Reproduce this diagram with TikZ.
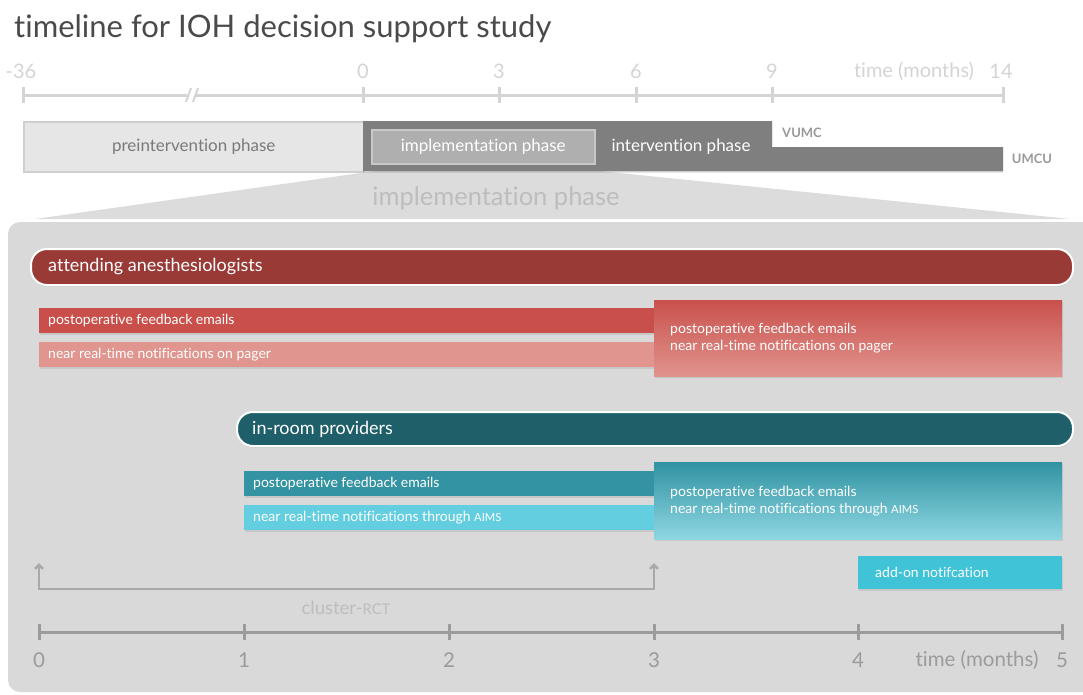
\documentclass[tikz,border=0pt]{standalone}
\usepackage{fontspec}
\usepackage{graphicx}
\setmainfont{Lato}[Ligatures=NoCommon]
\usetikzlibrary{shadows,arrows.meta}

\newcommand\fs[2]{\fontsize{#1}{#2}\selectfont}
\newcommand\smcaps[1]{\scalebox{0.8}{#1}}

\definecolor{titlegray}{HTML}{4A4A4A}
\definecolor{axislight}{HTML}{D4D4D4}
\definecolor{axisdark}{HTML}{9B9B9B}
\definecolor{prefill}{HTML}{E6E6E6}
\definecolor{preborder}{HTML}{CFCFCF}
\definecolor{pretext}{HTML}{7A7A7A}
\definecolor{darkbar}{HTML}{7F7F7F}
\definecolor{implfill}{HTML}{AFAFAF}
\definecolor{implborder}{HTML}{C8C8C8}
\definecolor{sitegray}{HTML}{999999}
\definecolor{panelgray}{HTML}{D9D9D9}
\definecolor{wedgegray}{HTML}{DCDCDC}
\definecolor{wedgetext}{HTML}{BDBDBD}
\definecolor{attred}{HTML}{993A37}
\definecolor{emailred}{HTML}{C9504A}
\definecolor{pagerpink}{HTML}{E0958F}
\definecolor{gradredtop}{HTML}{CA514C}
\definecolor{gradredbot}{HTML}{E0938E}
\definecolor{roomteal}{HTML}{1F5F69}
\definecolor{emailteal}{HTML}{3393A2}
\definecolor{aimscyan}{HTML}{62CEDF}
\definecolor{gradtealtop}{HTML}{3192A1}
\definecolor{gradtealbot}{HTML}{8ED7E3}
\definecolor{addoncyan}{HTML}{40C2D7}
\definecolor{bracketgray}{HTML}{A9A9A9}
\definecolor{rcttext}{HTML}{BDBDBD}

\begin{document}
\begin{tikzpicture}[x=1pt,y=-1pt,
  box/.style={inner sep=0pt, anchor=north west, draw=none},
  softshadow/.style={drop shadow={opacity=0.2, shadow xshift=0.6pt, shadow yshift=-1.6pt}},
  lbl/.style={anchor=west, text=white, inner sep=0pt, font=\fs{14}{17}, align=left},
  grouplbl/.style={anchor=west, text=white, inner sep=0pt, font=\fs{18}{18}},
  groupbar/.style={box, draw=white, line width=2pt, rounded corners=16pt, softshadow},
  topaxis/.style={draw=axislight, line width=3pt},
  botaxis/.style={draw=axisdark, line width=3pt},
  toplabel/.style={text=axislight, font=\fs{20}{20}, inner sep=0pt},
  botlabel/.style={text=axisdark, font=\fs{20.5}{20.5}, inner sep=0pt},
  bracket/.style={draw=bracketgray, line width=2.5pt},
]
\useasboundingbox (0,0) rectangle (1083,694);
\clip (0,0) rectangle (1083,694);

% title
\node[anchor=base west, inner sep=0pt, text=titlegray, font=\fs{31}{31}] (title) at (14,37)
  {timeline for IOH decision support study};

% overall time axis (months)
\coordinate (tm36) at (23,95);
\coordinate (tz) at (363,95);
\coordinate (tthree) at (499,95);
\coordinate (tsix) at (636,95);
\coordinate (tnine) at (772,95);
\coordinate (tfourteen) at (1003,95);
\draw[topaxis] (tm36) -- (tfourteen);
\foreach \p in {tm36,tz,tthree,tsix,tnine,tfourteen}
  \draw[topaxis] ([yshift=8pt]\p) -- ([yshift=-8pt]\p);
% axis break
\fill[white] (185,89) -- (193,89) -- (197,101) -- (189,101) -- cycle;
\draw[draw=axislight, line width=2pt] (186,102) -- (191,88);
\draw[draw=axislight, line width=2pt] (193,102) -- (198,88);
\node[toplabel] (lm36) at (21,71) {-36};
\node[toplabel] (lz) at (363,71) {0};
\node[toplabel] (lthree) at (499,71) {3};
\node[toplabel] (lsix) at (636,71) {6};
\node[toplabel] (lnine) at (772,71) {9};
\node[toplabel] (lfourteen) at (1001,71) {14};
\node[toplabel] (ltime) at (914,71) {time (months)};

% zoom wedge towards the detail panel
\fill[wedgegray] (375,171) -- (600,171) -- (1070,219) -- (35,219) -- cycle;
\node[text=wedgetext, font=\fs{25.5}{25.5}, inner sep=0pt] (wedgelabel) at (496,198) {implementation phase};

% study phases
\node[box, fill=prefill, draw=preborder, line width=1.5pt, minimum width=340pt, minimum height=50pt,
  softshadow] (pre) at (23,121) {};
\node[text=pretext, font=\fs{17}{17}, inner sep=0pt] (prelbl) at (pre.center) {preintervention phase};
\path[fill=darkbar, drop shadow={opacity=0.3, shadow xshift=0pt, shadow yshift=-1.5pt}]
  (363,121) -- (772,121) -- (772,147) -- (1003,147) -- (1003,171) -- (363,171) -- cycle;
\node[box, fill=implfill, draw=implborder, line width=1.5pt, minimum width=223pt, minimum height=34pt] (impl) at (371,129) {};
\node[text=white, font=\fs{17}{17}, inner sep=0pt] (impllbl) at (impl.center) {implementation phase};
\node[text=white, font=\fs{17}{17}, inner sep=0pt] (interv) at (681,147) {intervention phase};
\node[text=sitegray, font=\fs{13}{13}\bfseries, inner sep=0pt] (vumc) at (802,133) {VUMC};
\node[text=sitegray, font=\fs{13}{13}\bfseries, inner sep=0pt] (umcu) at (1032,159) {UMCU};

% detail panel
\fill[panelgray, rounded corners=12pt] (8,222) -- (1110,222) -- (1110,692) -- (8,692) -- cycle;

% attending anesthesiologists
\node[groupbar, fill=attred, minimum width=1042pt, minimum height=36pt] (att) at (30,248) {};
\node[grouplbl] (attlbl) at ([xshift=18pt]att.west) {attending anesthesiologists};
\node[box, fill=emailred, minimum width=615pt, minimum height=25pt, softshadow] (pfer) at (39,308) {};
\node[lbl] (pferlbl) at ([xshift=9pt]pfer.west) {postoperative feedback emails};
\node[box, fill=pagerpink, minimum width=615pt, minimum height=25pt, softshadow] (pager) at (39,342) {};
\node[lbl] (pagerlbl) at ([xshift=9pt]pager.west) {near real-time notifications on pager};
\node[box, top color=gradredtop, bottom color=gradredbot, minimum width=408pt, minimum height=76pt, softshadow] (gradr) at (654,300) {};
\node[lbl] (gradrlbl) at ([xshift=16pt]gradr.west) {postoperative feedback emails\\near real-time notifications on pager};

% in-room providers
\node[groupbar, fill=roomteal, minimum width=836pt, minimum height=34pt] (room) at (236,411) {};
\node[grouplbl] (roomlbl) at ([xshift=16pt]room.west) {in-room providers};
\node[box, fill=emailteal, minimum width=410pt, minimum height=25pt, softshadow] (pfet) at (244,471) {};
\node[lbl] (pfetlbl) at ([xshift=9pt]pfet.west) {postoperative feedback emails};
\node[box, fill=aimscyan, minimum width=410pt, minimum height=25pt, softshadow] (aims) at (244,505) {};
\node[lbl] (aimslbl) at ([xshift=9pt]aims.west) {near real-time notifications through \smcaps{AIMS}};
\node[box, top color=gradtealtop, bottom color=gradtealbot, minimum width=408pt, minimum height=77pt, softshadow] (gradt) at (654,462) {};
\node[lbl] (gradtlbl) at ([xshift=16pt]gradt.west) {postoperative feedback emails\\near real-time notifications through \smcaps{AIMS}};

% add-on
\node[box, fill=addoncyan, minimum width=204pt, minimum height=33pt, softshadow] (addon) at (858,556) {};
\node[lbl] (addonlbl) at ([xshift=17pt]addon.west) {add-on notifcation};

% cluster randomised period
\coordinate (bstarttop) at (39,563);
\coordinate (bstart) at (39,589);
\coordinate (bend) at (654,589);
\coordinate (bendtop) at (654,563);
\draw[bracket, {Straight Barb[length=4pt,width=8pt]}-{Straight Barb[length=4pt,width=8pt]}]
  (bstarttop) -- (bstart) -- (bend) -- (bendtop);
\node[text=rcttext, font=\fs{18.5}{18.5}, inner sep=0pt] (rct) at (346,608) {cluster-\smcaps{RCT}};

% implementation time axis
\coordinate (a0) at (39,632);
\coordinate (a1) at (244,632);
\coordinate (a2) at (449,632);
\coordinate (a3) at (654,632);
\coordinate (a4) at (858,632);
\coordinate (a5) at (1062,632);
\draw[botaxis] (a0) -- (a5);
\foreach \p in {a0,a1,a2,a3,a4,a5}
  \draw[botaxis] ([yshift=8pt]\p) -- ([yshift=-8pt]\p);
\node[botlabel] (l0) at (39,660) {0};
\node[botlabel] (l1) at (244,660) {1};
\node[botlabel] (l2) at (449,660) {2};
\node[botlabel] (l3) at (654,660) {3};
\node[botlabel] (l4) at (858,660) {4};
\node[botlabel] (l5) at (1062,660) {5};
\node[botlabel] (ltimeb) at (977,660) {time (months)};
\end{tikzpicture}
\end{document}
